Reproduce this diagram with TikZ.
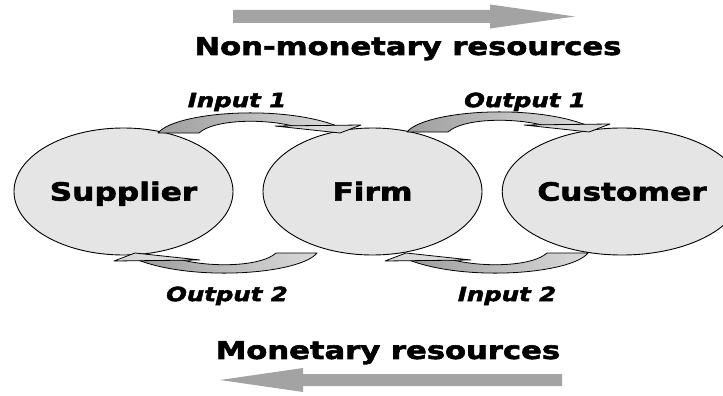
\documentclass[tikz,border=0pt]{standalone}
\usepackage{fontspec}
\usepackage{tikz}
\usetikzlibrary{arrows.meta,shapes.geometric}
\newfontfamily\heavyfont{DejaVu Sans}[FakeStretch=1.25,FakeBold=2.5]
\definecolor{ellgray}{RGB}{229,229,229}
\definecolor{ribdark}{RGB}{158,158,158}
\definecolor{riblight}{RGB}{218,218,218}
\definecolor{resgray}{RGB}{163,163,163}
\tikzset{
  party/.style={ellipse, draw=black, line width=0.9pt, fill=ellgray,
                minimum width=219pt, minimum height=127pt, inner sep=0pt,
                font=\heavyfont\bfseries\fontsize{25}{25}\selectfont,
                text height=18.2pt, text depth=0pt},
  flowlbl/.style={inner sep=0pt, text height=14.2pt, text depth=0pt,
                  font=\heavyfont\bfseries\itshape\fontsize{19.5}{20}\selectfont},
  reslbl/.style={inner sep=0pt, text height=17.9pt, text depth=0pt,
                 font=\heavyfont\bfseries\fontsize{24.5}{25}\selectfont},
  resarr/.style={fill=resgray},
  ribbon/.style={draw=black, line width=0.8pt, line join=round},
}
% bent ribbon arrow, tail at the local origin, head to the right
\newcommand{\bentarrow}[2]{%
  \begin{scope}[#1]
    \shadedraw[ribbon, #2] (0,0) .. controls (17,-21) and (122,-29) .. (179,-7)
      -- (135,-7) .. controls (102,-15) and (55,-13) .. (41,0) -- cycle;
    \filldraw[ribbon, fill=riblight] (117,-7) -- (203,-8) -- (182,0) -- cycle;
  \end{scope}}

\begin{document}
\begin{tikzpicture}[x=1pt, y=-1pt]
  \useasboundingbox (0,0) rectangle (723,396);
  \node[party] (sup) at (123.5,191.5) {Supplier};
  \node[party] (firm) at (372.5,191.5) {Firm};
  \node[party] (cust) at (622,191.5) {Customer};

  \bentarrow{shift={(158,133)}}{left color=ribdark, right color=riblight}
  \bentarrow{shift={(407,132)}}{left color=ribdark, right color=riblight}
  \bentarrow{shift={(317,253)}, xscale=-1, yscale=-1}{left color=ribdark, right color=riblight}
  \bentarrow{shift={(588,253)}, xscale=-1, yscale=-1}{left color=ribdark, right color=riblight}

  \node[flowlbl] (in1) at (237,100) {Input 1};
  \node[flowlbl] (out1) at (525,100) {Output 1};
  \node[flowlbl] (out2) at (227,294) {Output 2};
  \node[flowlbl] (in2) at (507,294) {Input 2};

  % straight block arrows: shaft, then head
  \coordinate (nmstart) at (233,16.5);
  \coordinate (nmend) at (575,16.5);
  \fill[resarr] (nmstart) ++(0,-6.5) -- ++(257,0) -- ++(0,-5.5) -- (nmend)
    -- ++(-85,12) -- ++(0,-5.5) -- ++(-257,0) -- cycle;
  \node[reslbl] (nonmon) at (408,46) {Non-monetary resources};

  \coordinate (mstart) at (562,380);
  \coordinate (mend) at (220,380);
  \fill[resarr] (mstart) ++(0,-6) -- ++(-259,0) -- ++(0,-6) -- (mend)
    -- ++(83,12) -- ++(0,-6) -- ++(259,0) -- cycle;
  \node[reslbl] (mon) at (388,350) {Monetary resources};
\end{tikzpicture}
\end{document}
